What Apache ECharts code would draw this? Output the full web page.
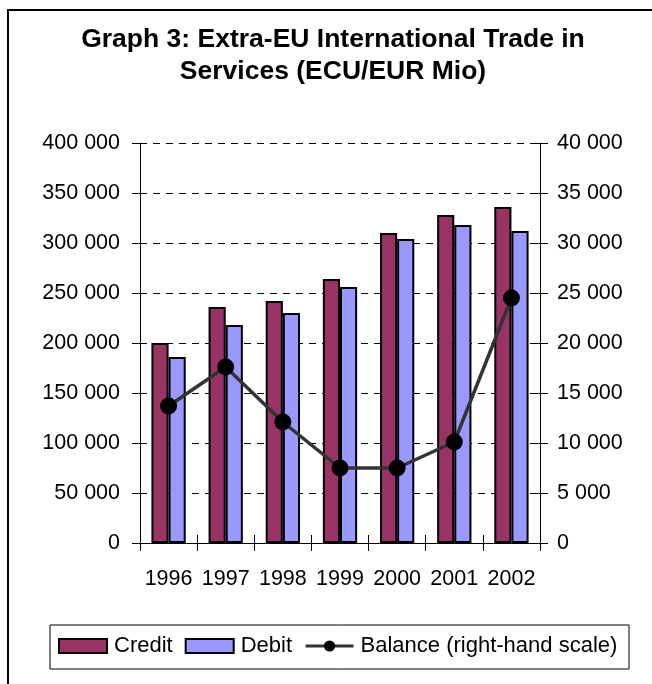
<!DOCTYPE html>
<html>
<head>
<meta charset="utf-8">
<script src="https://cdn.jsdelivr.net/npm/echarts@6/dist/echarts.min.js"></script>
<style>
  html, body { margin: 0; padding: 0; background: #fff; }
  #chart { width: 652px; height: 684px; }
</style>
</head>
<body>
<div id="chart"></div>
<script>
// Extra-EU trade in services, ECU/EUR million
const years = ['1996', '1997', '1998', '1999', '2000', '2001', '2002'];
const credit = [200000, 236000, 242000, 264000, 310000, 328000, 336000];
const debit = [186000, 218000, 230000, 256000, 304000, 318000, 312000];
const balance = [13700, 17600, 12100, 7500, 7500, 10100, 24500];

// Axis ranges (left: credit/debit, right: balance)
const leftMin = 0, leftMax = 400000, leftStep = 50000;
const rightMin = 0, rightMax = 40000, rightStep = 5000;

const FONT = '"Liberation Sans", Arial, sans-serif';

function spaced(v) {
  return String(v).replace(/\B(?=(\d{3})+(?!\d))/g, ' ');
}

const chart = echarts.init(document.getElementById('chart'), null, { renderer: 'canvas' });

const labelStyle = { color: '#000', fontFamily: FONT, fontSize: 21.5 };
const tickStyle = { color: '#000', width: 1 };

chart.setOption({
  animation: false,
  backgroundColor: '#fff',
  textStyle: { fontFamily: FONT },
  grid: { left: 140, right: 112, top: 143, bottom: 141, containLabel: false },
  graphic: [
    {
      type: 'rect', silent: true, z: -10,
      shape: { x: 8, y: 10, width: 700, height: 700 },
      style: { fill: 'none', stroke: '#000', lineWidth: 2 }
    },
    {
      type: 'text', silent: true,
      x: 333, y: 24,
      style: {
        text: 'Graph 3: Extra-EU International Trade in\nServices (ECU/EUR Mio)',
        align: 'center', verticalAlign: 'top',
        font: 'bold 26.5px ' + FONT, lineHeight: 32, fill: '#000'
      }
    },
    {
      type: 'rect', silent: true,
      shape: { x: 50, y: 625, width: 579, height: 44 },
      style: { fill: 'none', stroke: '#000', lineWidth: 1 }
    }
  ],
  legend: {
    left: 58, top: 635, padding: 0,
    itemWidth: 48, itemHeight: 14, itemGap: 12,
    textStyle: { color: '#000', fontFamily: FONT, fontSize: 22, padding: [0, 0, 0, 2] },
    data: [
      { name: 'Credit', icon: 'rect' },
      { name: 'Debit', icon: 'rect' },
      { name: 'Balance (right-hand scale)', lineStyle: { color: '#333', width: 3 }, itemStyle: { color: '#000' } }
    ]
  },
  xAxis: [
    {
      type: 'category', data: years, position: 'bottom',
      axisLine: { lineStyle: { color: '#000', width: 1 } },
      axisTick: { show: true, alignWithLabel: false, length: 8, lineStyle: tickStyle },
      axisLabel: Object.assign({ margin: 25, interval: 0 }, labelStyle),
      splitLine: { show: false }
    },
    {
      // inward half of the crossing category ticks
      type: 'category', data: years, position: 'bottom', offset: 0,
      axisLine: { show: false },
      axisTick: { show: true, inside: true, alignWithLabel: false, length: 8, lineStyle: tickStyle },
      axisLabel: { show: false },
      splitLine: { show: false }
    }
  ],
  yAxis: [
    {
      type: 'value', position: 'left', min: leftMin, max: leftMax, interval: leftStep,
      axisLine: { show: true, lineStyle: { color: '#000', width: 1 } },
      axisTick: { show: true, length: 8, lineStyle: tickStyle },
      axisLabel: Object.assign({ margin: 20, formatter: spaced }, labelStyle),
      splitLine: { show: true, lineStyle: { color: '#000', width: 1, type: [7, 6] } }
    },
    {
      type: 'value', position: 'right', min: rightMin, max: rightMax, interval: rightStep,
      axisLine: { show: true, lineStyle: { color: '#000', width: 1 } },
      axisTick: { show: true, length: 8, lineStyle: tickStyle },
      axisLabel: Object.assign({ margin: 17, formatter: spaced }, labelStyle),
      splitLine: { show: false }
    },
    {
      type: 'value', position: 'left', offset: 0, min: leftMin, max: leftMax, interval: leftStep,
      axisLine: { show: false },
      axisTick: { show: true, inside: true, length: 7, lineStyle: tickStyle },
      axisLabel: { show: false },
      splitLine: { show: false }
    },
    {
      type: 'value', position: 'right', offset: 0, min: rightMin, max: rightMax, interval: rightStep,
      axisLine: { show: false },
      axisTick: { show: true, inside: true, length: 8, lineStyle: tickStyle },
      axisLabel: { show: false },
      splitLine: { show: false }
    }
  ],
  series: [
    {
      name: 'Credit', type: 'bar', data: credit,
      xAxisIndex: 0, yAxisIndex: 0,
      barGap: '0%', barCategoryGap: '40%',
      itemStyle: { color: '#993366', borderColor: '#000', borderWidth: 2 }
    },
    {
      name: 'Debit', type: 'bar', data: debit,
      xAxisIndex: 0, yAxisIndex: 0,
      barGap: '0%', barCategoryGap: '40%',
      itemStyle: { color: '#9999FF', borderColor: '#000', borderWidth: 2 }
    },
    {
      name: 'Balance (right-hand scale)', type: 'line', data: balance,
      xAxisIndex: 0, yAxisIndex: 1,
      symbol: 'circle', symbolSize: 17, z: 5,
      lineStyle: { color: '#333', width: 3.5 },
      itemStyle: { color: '#000' }
    }
  ]
});
</script>
</body>
</html>
